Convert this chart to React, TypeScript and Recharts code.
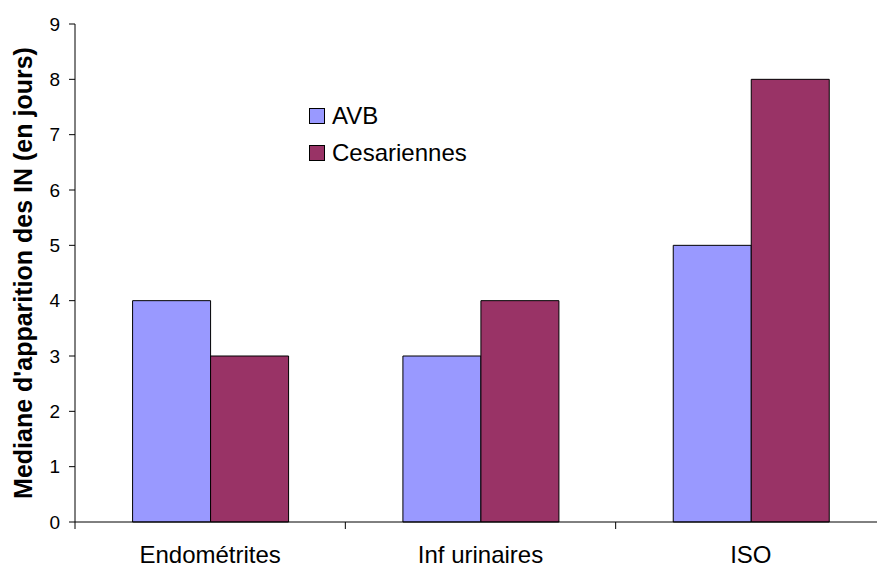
import React from 'react';
import { BarChart, Bar, XAxis, YAxis, Legend, Label } from 'recharts';

const categories = ['Endométrites', 'Inf urinaires', 'ISO'];
const avbValues = [4, 3, 5];
const cesarienneValues = [3, 4, 8];
const yTicks = [0, 1, 2, 3, 4, 5, 6, 7, 8, 9];

const seriesNames = { avb: 'AVB', ces: 'Cesariennes' };
const colors = { avb: '#9999FF', ces: '#993366' };

const data = categories.map((name, i) => ({
  name,
  avb: avbValues[i],
  ces: cesarienneValues[i],
}));

const FONT = '"Liberation Sans", Arial, sans-serif';

// category label in the middle of the band, tick mark on the band's left edge
const CategoryTick = (props: any) => {
  const { x, y, payload } = props;
  const half = payload && payload.offset ? payload.offset : 0;
  return (
    <g>
      <line x1={x - half} x2={x - half} y1={y} y2={y + 7} stroke="#000" />
      <text x={x} y={y + 41} textAnchor="middle" fontSize={24} fill="#000" fontFamily={FONT}>
        {payload.value}
      </text>
    </g>
  );
};

const LegendBox = () => (
  <div style={{ fontFamily: FONT, fontSize: 24, color: '#000', lineHeight: '37px' }}>
    {(['avb', 'ces'] as const).map((k) => (
      <div key={k} style={{ display: 'flex', alignItems: 'center', height: 37 }}>
        <span
          style={{
            display: 'inline-block',
            width: 14,
            height: 14,
            background: colors[k],
            border: '1px solid #000',
            marginRight: 7,
          }}
        />
        {seriesNames[k]}
      </div>
    ))}
  </div>
);

export default function App() {
  return (
    <div style={{ position: 'absolute', left: 0, top: 0, background: '#fff' }}>
      <BarChart
        width={877}
        height={569}
        data={data}
        margin={{ top: 24, right: -9, bottom: 0, left: 0 }}
        barCategoryGap="21.3%"
        barGap={0}
        style={{ fontFamily: FONT }}
      >
        <XAxis
          dataKey="name"
          height={47}
          tickLine={false}
          tickSize={0}
          tickMargin={0}
          axisLine={{ stroke: '#000' }}
          tick={<CategoryTick />}
          interval={0}
        />
        <YAxis
          width={75}
          domain={[0, 9]}
          ticks={yTicks}
          interval={0}
          tickSize={6}
          tickMargin={9}
          axisLine={{ stroke: '#000' }}
          tickLine={{ stroke: '#000' }}
          tick={{ fontSize: 19, fill: '#000', fontFamily: FONT }}
        >
          <Label
            content={() => (
              <text
                x={32}
                y={273}
                transform="rotate(-90, 32, 273)"
                textAnchor="middle"
                fontSize={25}
                fontWeight="bold"
                fill="#000"
                fontFamily={FONT}
              >
                Mediane d'apparition des IN (en jours)
              </text>
            )}
          />
        </YAxis>
        <Legend
          layout="vertical"
          align="center"
          verticalAlign="middle"
          content={<LegendBox />}
          wrapperStyle={{ position: 'absolute', left: 309, top: 97, width: 200 }}
        />
        <Bar dataKey="avb" name={seriesNames.avb} fill={colors.avb} stroke="#000" strokeWidth={1} isAnimationActive={false} />
        <Bar dataKey="ces" name={seriesNames.ces} fill={colors.ces} stroke="#000" strokeWidth={1} isAnimationActive={false} />
      </BarChart>
    </div>
  );
}
